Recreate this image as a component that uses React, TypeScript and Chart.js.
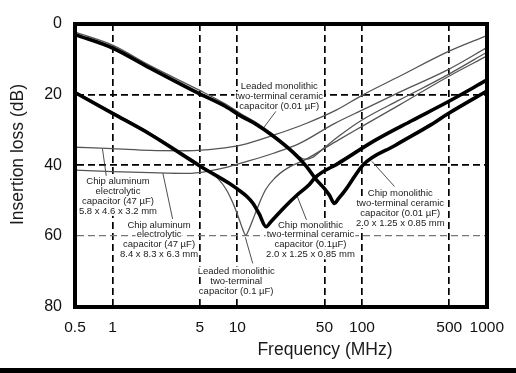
import React, { useEffect, useRef, useState } from 'react';
import { Chart, registerables } from 'chart.js';

Chart.register(...registerables);

// ---- axes ----
const freqTicks = [0.5, 1, 5, 10, 50, 100, 500, 1000];
const freqTickLabels = ['0.5', '1', '5', '10', '50', '100', '500', '1000'];
const lossTicks = [0, 20, 40, 60, 80];

// ---- series (frequency in MHz, insertion loss in dB) ----
// Chip monolithic two-terminal ceramic capacitor (0.01 µF)
const chip001Freq = [0.5, 1, 2, 5, 8, 10.7, 14, 19.5, 27.9, 35.8, 42.8, 50, 55, 60, 65, 75, 102, 184, 358, 485, 1000];
const chip001Loss = [3, 6.8, 12.5, 19.8, 23.3, 26.1, 28.3, 31.8, 36.3, 40.3, 44, 46.6, 48.6, 50.8, 49.4, 46.6, 39.9, 34.4, 28.5, 25.5, 19];

// Chip monolithic two-terminal ceramic capacitor (0.1 µF)
const chip01Freq = [0.5, 1, 2, 5, 8.6, 10, 12, 13.3, 15, 17, 18.6, 24, 30, 38, 42, 65, 128, 250, 485, 1000];
const chip01Loss = [19.4, 25.3, 31.2, 40.2, 45.1, 46.7, 48.9, 50.7, 53.8, 57.4, 56, 51.8, 48.5, 45.4, 43.5, 39.4, 32.9, 27.4, 22.1, 15.9];

// Leaded monolithic two-terminal ceramic capacitor (0.01 µF)
const leaded001Freq = [0.5, 1, 2, 5, 8, 10.7, 14, 19.5, 25, 30, 35, 40, 50, 65, 100, 200, 485, 1000];
const leaded001Loss = [2.3, 6, 11.8, 18.8, 22.6, 25.4, 27.8, 31.4, 34.6, 37, 38.3, 37.8, 35, 31.8, 27.2, 21.5, 14.4, 8];

// Leaded monolithic two-terminal capacitor (0.1 µF)
const leaded01Freq = [0.5, 1, 2, 4, 5.7, 7, 8.2, 9.3, 10.4, 11.1, 11.7, 12.4, 13.3, 15, 16.8, 20, 24, 36, 65, 100, 200, 485, 1000];
const leaded01Loss = [19.1, 25, 30.9, 37.5, 41.2, 43.8, 47, 51, 55.5, 58.3, 59.8, 58.2, 55.5, 50.8, 47, 43.6, 41.3, 38.2, 32.8, 29, 22.9, 15, 9.1];

// Chip aluminum electrolytic capacitor (47 µF) 5.8 x 4.6 x 3.2 mm
const alSmallFreq = [0.5, 1, 2, 4, 7, 10.7, 19.5, 36, 62, 100, 200, 485, 1000];
const alSmallLoss = [34.9, 35.3, 35.8, 35.9, 35.3, 34.3, 31.5, 28.1, 24.4, 20.2, 14.8, 7.9, 3.3];

// Chip aluminum electrolytic capacitor (47 µF) 8.4 x 8.3 x 6.3 mm
const alLargeFreq = [0.5, 1, 2, 4, 6, 8, 10.7, 19.5, 31.6, 60, 100, 200, 485, 1000];
const alLargeLoss = [41.4, 41.8, 42.1, 42.3, 41.6, 40.7, 39.4, 36.6, 33.8, 28.2, 24.4, 19.3, 13, 6.7];

// ---- annotations (anchored in data coordinates: MHz, dB) ----
const notes = [
  { lines: ['Leaded monolithic', 'two-terminal ceramic', 'capacitor (0.01 \u00b5F)'], f: 21.7, db: 17.8 },
  { lines: ['Chip aluminum', 'electrolytic', 'capacitor (47 \u00b5F)', '5.8 x 4.6 x 3.2 mm'], f: 1.105, db: 44.6 },
  { lines: ['Chip aluminum', 'electrolytic', 'capacitor (47 \u00b5F)', '8.4 x 8.3 x 6.3 mm'], f: 2.36, db: 56.9 },
  { lines: ['Leaded monolithic', 'two-terminal', 'capacitor (0.1 \u00b5F)'], f: 9.8, db: 70.1 },
  { lines: ['Chip monolithic', 'two-terminal ceramic', 'capacitor (0.1\u00b5F)', '2.0 x 1.25 x 0.85 mm'], f: 38.6, db: 56.9 },
  { lines: ['Chip monolithic', 'two-terminal ceramic', 'capacitor (0.01 \u00b5F)', '2.0 x 1.25 x 0.85 mm'], f: 202.6, db: 48.1 },
];
const pointers = [
  { from: [20.5, 24.6], to: [16.2, 29.5] },
  { from: [0.89, 43], to: [0.83, 35.3] },
  { from: [2.53, 42.2], to: [3.03, 55.2] },
  { from: [11.6, 60.4], to: [13.3, 67.8] },
  { from: [35.9, 55.5], to: [30, 48.5] },
  { from: [120, 38.9], to: [182, 46] },
];

const FONT = '"Liberation Sans", Arial, Helvetica, sans-serif';
const NOTE_LINE = 9.8;
const FRAME = 4;

const toPoints = (fs: number[], ls: number[]) => fs.map((f, i) => ({ x: f, y: ls[i] }));

const thick = (label: string, fs: number[], ls: number[]) => ({
  label,
  data: toPoints(fs, ls),
  borderColor: '#000',
  borderWidth: 3.6,
  pointRadius: 0,
  fill: false,
  cubicInterpolationMode: 'monotone' as const,
});
const thin = (label: string, fs: number[], ls: number[]) => ({
  label,
  data: toPoints(fs, ls),
  borderColor: '#555',
  borderWidth: 1.3,
  pointRadius: 0,
  fill: false,
  cubicInterpolationMode: 'monotone' as const,
});

const decorPlugin = {
  id: 'decor',
  beforeDatasetsDraw(chart: any) {
    const { ctx, scales } = chart;
    const x = scales.x;
    const y = scales.y;
    ctx.save();
    ctx.setLineDash([]);
    ctx.strokeStyle = '#3a3a3a';
    ctx.lineWidth = 0.9;
    for (const p of pointers) {
      ctx.beginPath();
      ctx.moveTo(x.getPixelForValue(p.from[0]), y.getPixelForValue(p.from[1]));
      ctx.lineTo(x.getPixelForValue(p.to[0]), y.getPixelForValue(p.to[1]));
      ctx.stroke();
    }
    ctx.font = `9.5px ${FONT}`;
    ctx.textAlign = 'center';
    ctx.textBaseline = 'middle';
    for (const n of notes) {
      const cx = x.getPixelForValue(n.f);
      const cy = y.getPixelForValue(n.db);
      n.lines.forEach((t, i) => {
        const w = ctx.measureText(t).width;
        const ly = cy + i * NOTE_LINE;
        ctx.fillStyle = '#fff';
        ctx.fillRect(cx - w / 2 - 1, ly - 5, w + 2, 10);
        ctx.fillStyle = '#222';
        ctx.fillText(t, cx, ly);
      });
    }
    ctx.restore();
  },
  afterDraw(chart: any) {
    const ctx = chart.ctx;
    ctx.save();
    ctx.fillStyle = '#1a1a1a';
    ctx.font = `17.5px ${FONT}`;
    ctx.textAlign = 'center';
    ctx.textBaseline = 'middle';
    ctx.fillText('Frequency (MHz)', 325, 350.5);
    ctx.translate(17.7, 154.5);
    ctx.rotate(-Math.PI / 2);
    ctx.fillText('Insertion loss (dB)', 0, 0);
    ctx.restore();
  },
};

type Area = { left: number; top: number; right: number; bottom: number };

export default function App() {
  const ref = useRef<HTMLCanvasElement>(null);
  const [area, setArea] = useState<Area | null>(null);
  useEffect(() => {
    const canvas = ref.current;
    if (!canvas) return;
    const chart = new Chart(canvas, {
      type: 'line',
      data: {
        datasets: [
          thick('Chip monolithic 0.01 \u00b5F', chip001Freq, chip001Loss),
          thick('Chip monolithic 0.1 \u00b5F', chip01Freq, chip01Loss),
          thin('Leaded monolithic 0.01 \u00b5F', leaded001Freq, leaded001Loss),
          thin('Leaded monolithic 0.1 \u00b5F', leaded01Freq, leaded01Loss),
          thin('Chip aluminum 47 \u00b5F 5.8 x 4.6 x 3.2 mm', alSmallFreq, alSmallLoss),
          thin('Chip aluminum 47 \u00b5F 8.4 x 8.3 x 6.3 mm', alLargeFreq, alLargeLoss),
        ] as any,
      },
      options: {
        responsive: false,
        animation: false,
        devicePixelRatio: 1,
        layout: { padding: { top: 24, right: 19.5, left: 0, bottom: 0 } },
        plugins: { legend: { display: false }, tooltip: { enabled: false }, title: { display: false } },
        scales: {
          x: {
            type: 'logarithmic',
            min: 0.5,
            max: 1000,
            afterBuildTicks: (s: any) => {
              s.ticks = freqTicks.map((v) => ({ value: v }));
            },
            afterFit: (s: any) => {
              s.height = 61.5;
            },
            ticks: {
              autoSkip: false,
              maxRotation: 0,
              minRotation: 0,
              padding: 12,
              color: '#111',
              font: { size: 15.5, family: FONT },
              callback: (v: any) => {
                const i = freqTicks.indexOf(Number(v));
                return i >= 0 ? freqTickLabels[i] : '';
              },
            },
            grid: {
              drawTicks: false,
              color: (c: any) => (c.tick && (c.tick.value === 0.5 || c.tick.value === 1000) ? 'rgba(0,0,0,0)' : '#000'),
              lineWidth: 1.7,
            },
            border: { display: true, color: '#000', width: FRAME, dash: [7, 4] },
          },
          y: {
            type: 'linear',
            reverse: true,
            min: 0,
            max: 80,
            afterBuildTicks: (s: any) => {
              s.ticks = lossTicks.map((v) => ({ value: v }));
            },
            afterFit: (s: any) => {
              s.width = 75;
            },
            ticks: {
              padding: 13,
              color: '#111',
              font: { size: 16, family: FONT },
            },
            grid: {
              drawTicks: false,
              color: (c: any) => {
                const v = c.tick ? c.tick.value : -1;
                if (v === 20 || v === 40) return '#000';
                if (v === 60) return '#777';
                return 'rgba(0,0,0,0)';
              },
              lineWidth: (c: any) => (c.tick && c.tick.value === 60 ? 1.2 : 1.7),
            },
            border: { display: true, color: '#000', width: FRAME, dash: [7, 4] },
          },
        },
      } as any,
      plugins: [decorPlugin],
    });
    const ca = chart.chartArea;
    setArea({ left: ca.left, top: ca.top, right: ca.right, bottom: ca.bottom });
    return () => chart.destroy();
  }, []);

  return (
    <div style={{ position: 'fixed', left: 0, top: 0, width: 516, height: 373, background: '#fff' }}>
      <canvas ref={ref} width={516} height={368} style={{ display: 'block' }} />
      {area && (
        <div
          style={{
            position: 'absolute',
            left: area.left - FRAME / 2,
            top: area.top - FRAME / 2,
            width: area.right - area.left + FRAME,
            height: area.bottom - area.top + FRAME,
            border: `${FRAME}px solid #000`,
            boxSizing: 'border-box',
            pointerEvents: 'none',
          }}
        />
      )}
      <div style={{ height: 5, background: '#000' }} />
    </div>
  );
}
